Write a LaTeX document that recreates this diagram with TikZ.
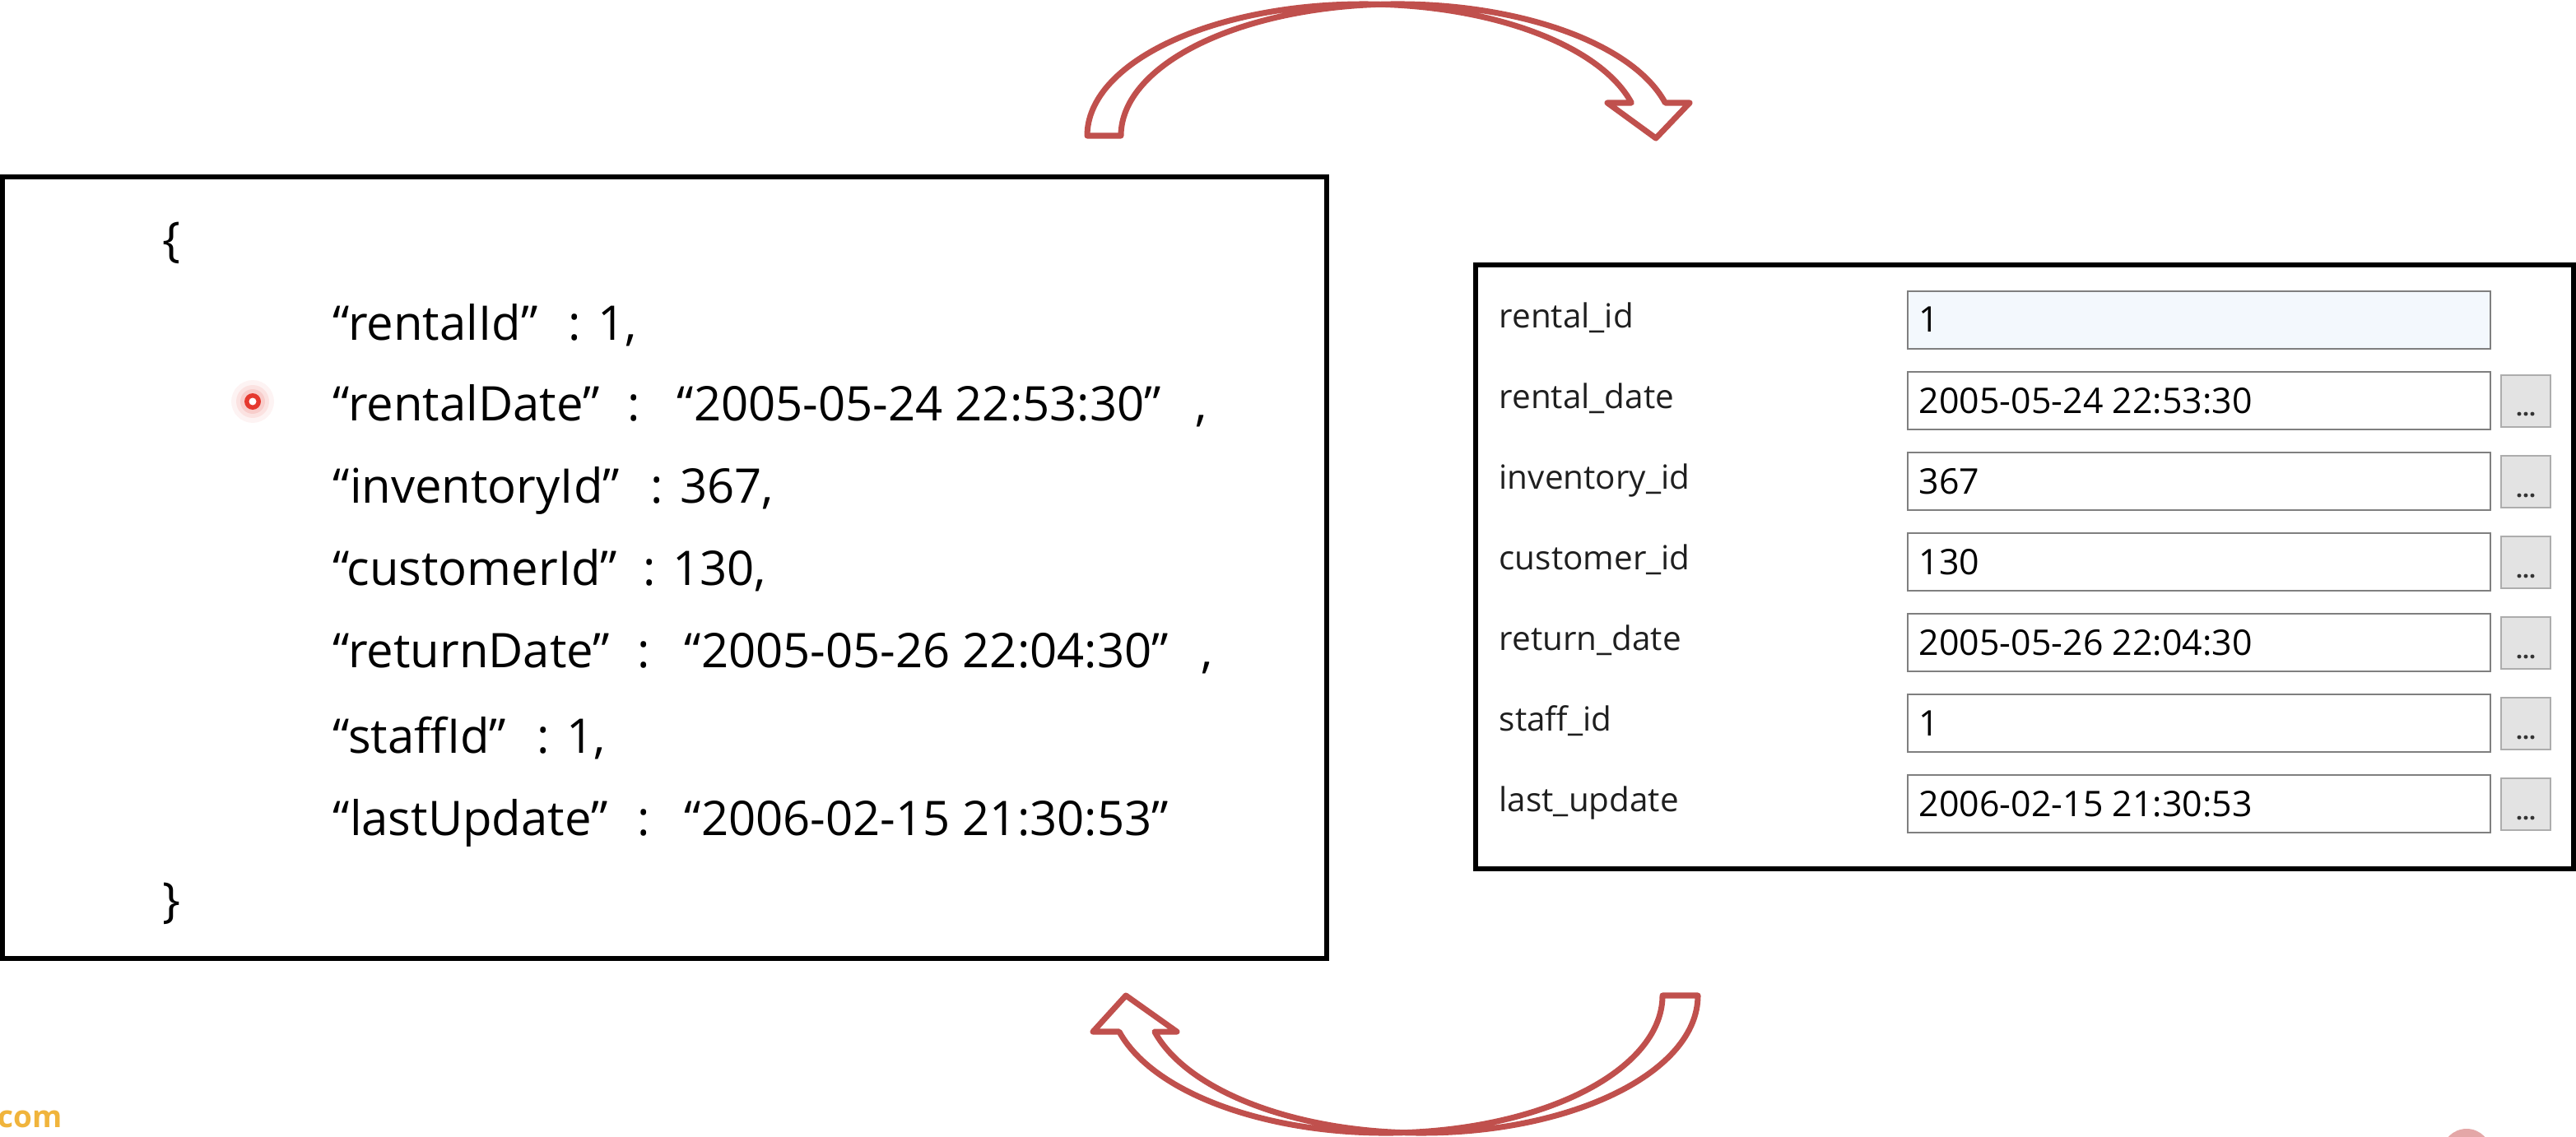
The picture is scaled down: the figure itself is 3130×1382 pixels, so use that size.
\documentclass[tikz,border=0pt]{standalone}
\usepackage{fontspec}
\setmainfont{Open Sans}
\definecolor{arrowred}{HTML}{C0504D}
\definecolor{fieldborder}{HTML}{7F7F7F}
\definecolor{fieldblue}{HTML}{F3F8FD}
\definecolor{btnfill}{HTML}{E3E3E3}
\definecolor{btnborder}{HTML}{ADADAD}
\definecolor{dotred}{HTML}{E5392F}
\definecolor{comgold}{HTML}{F0B43C}
\definecolor{wmpink}{HTML}{E4A7A7}
\begin{document}
\begin{tikzpicture}[x=0.1mm,y=-0.1mm,
  panel/.style={draw=black, line width=1.65pt},
  bentarrow/.style={draw=arrowred, line width=2pt, fill=white, line join=round},
  json/.style={font=\fontsize{16.5}{20}\selectfont, anchor=base west, inner sep=0pt},
  lbl/.style={font=\fontsize{11.5}{14}\selectfont, anchor=base west, inner sep=0pt, text=black!88},
  val/.style={font=\fontsize{12.2}{14}\selectfont, anchor=base west, inner sep=0pt},
  fieldbox/.style={draw=fieldborder, line width=0.75pt},
  btnbox/.style={draw=btnborder, fill=btnfill, line width=0.45pt},
  btndots/.style={font=\fontsize{8}{9}\selectfont\bfseries, anchor=base, inner sep=0pt, text=black!80}]
\useasboundingbox (0,0) rectangle (3130,1382);

% ---------- left JSON panel ----------
\draw[panel] (3,215) rectangle (1612,1165);
\node[json, anchor=center] (lbrace) at (208,295) {\{};
\node[json, anchor=center] (rbrace) at (208,1098) {\}};

\node[json] (k1) at (404,413) {“rentalId”};
\node[json] (v1) at (690,413) {: 1,};

\node[json] (k2) at (404,511) {“rentalDate”};
\node[json] (c2) at (762,511) {:};
\node[json] (v2) at (822,511) {“2005-05-24 22:53:30”};
\node[json] (e2) at (1452,511) {,};

\node[json] (k3) at (404,611) {“inventoryId”};
\node[json] (v3) at (790,611) {: 367,};

\node[json] (k4) at (404,711) {“customerId”};
\node[json] (v4) at (781,711) {: 130,};

\node[json] (k5) at (404,811) {“returnDate”};
\node[json] (c5) at (774,811) {:};
\node[json] (v5) at (831,811) {“2005-05-26 22:04:30”};
\node[json] (e5) at (1459,811) {,};

\node[json] (k6) at (404,915) {“staffId”};
\node[json] (v6) at (652,915) {: 1,};

\node[json] (k7) at (404,1015) {“lastUpdate”};
\node[json] (c7) at (774,1015) {:};
\node[json] (v7) at (831,1015) {“2006-02-15 21:30:53”};

% red pointer dot
\fill[dotred, opacity=0.06] (307,488) circle (26);
\fill[dotred, opacity=0.09] (307,488) circle (20);
\fill[dotred, opacity=0.12] (307,488) circle (15);
\fill[dotred] (307,488) circle (10);
\fill[white] (307,488) circle (4.5);

% ---------- right form panel ----------
\draw[panel] (1793,322) rectangle (3127,1056);
\foreach \i/\l/\v in {0/rental\_id/1,
                       1/rental\_date/2005-05-24 22:53:30,
                       2/inventory\_id/367,
                       3/customer\_id/130,
                       4/return\_date/2005-05-26 22:04:30,
                       5/staff\_id/1,
                       6/last\_update/2006-02-15 21:30:53}{
  \pgfmathsetmacro{\t}{354+98*\i}
  \pgfmathsetmacro{\b}{\t+70}
  \ifnum\i=0
    \fill[fieldblue] (2318,\t) rectangle (3026,\b);
  \else
    \fill[white] (2318,\t) rectangle (3026,\b);
    \draw[btnbox] (3039,\t+4) rectangle (3099,\b-3);
    \node[btndots] (dots\i) at (3069,\t+54) {...};
  \fi
  \draw[fieldbox] (2318,\t) rectangle (3026,\b);
  \node[lbl] (lab\i) at (1821,\t+44) {\l};
  \node[val] (val\i) at (2331,\t+50) {\v};
}

% ---------- curved block arrows ----------
\draw[bentarrow] (1321,165)
  arc[start angle=180, end angle=345.52, x radius=336, y radius=160]
  -- (1953,125) -- (2012,168) -- (2053,125) -- (2023.3,125)
  arc[start angle=345.52, end angle=180, x radius=336, y radius=160]
  -- cycle;

\draw[bentarrow] (2063,1210)
  arc[start angle=0, end angle=164.72, x radius=336, y radius=167]
  -- (1430,1254) -- (1368,1210) -- (1328,1254) -- (1359.9,1254)
  arc[start angle=164.72, end angle=0, x radius=336, y radius=167]
  -- cycle;

% ---------- cropped watermark fragments ----------
\node[anchor=base west, inner sep=0pt, text=comgold, font=\fontsize{10.5}{12}\selectfont\bfseries] (com) at (-3,1370) {com};
\fill[wmpink] (2997,1402) circle (30);
\fill[wmpink!60] (2434,1392) circle (10);
\end{tikzpicture}
\end{document}
